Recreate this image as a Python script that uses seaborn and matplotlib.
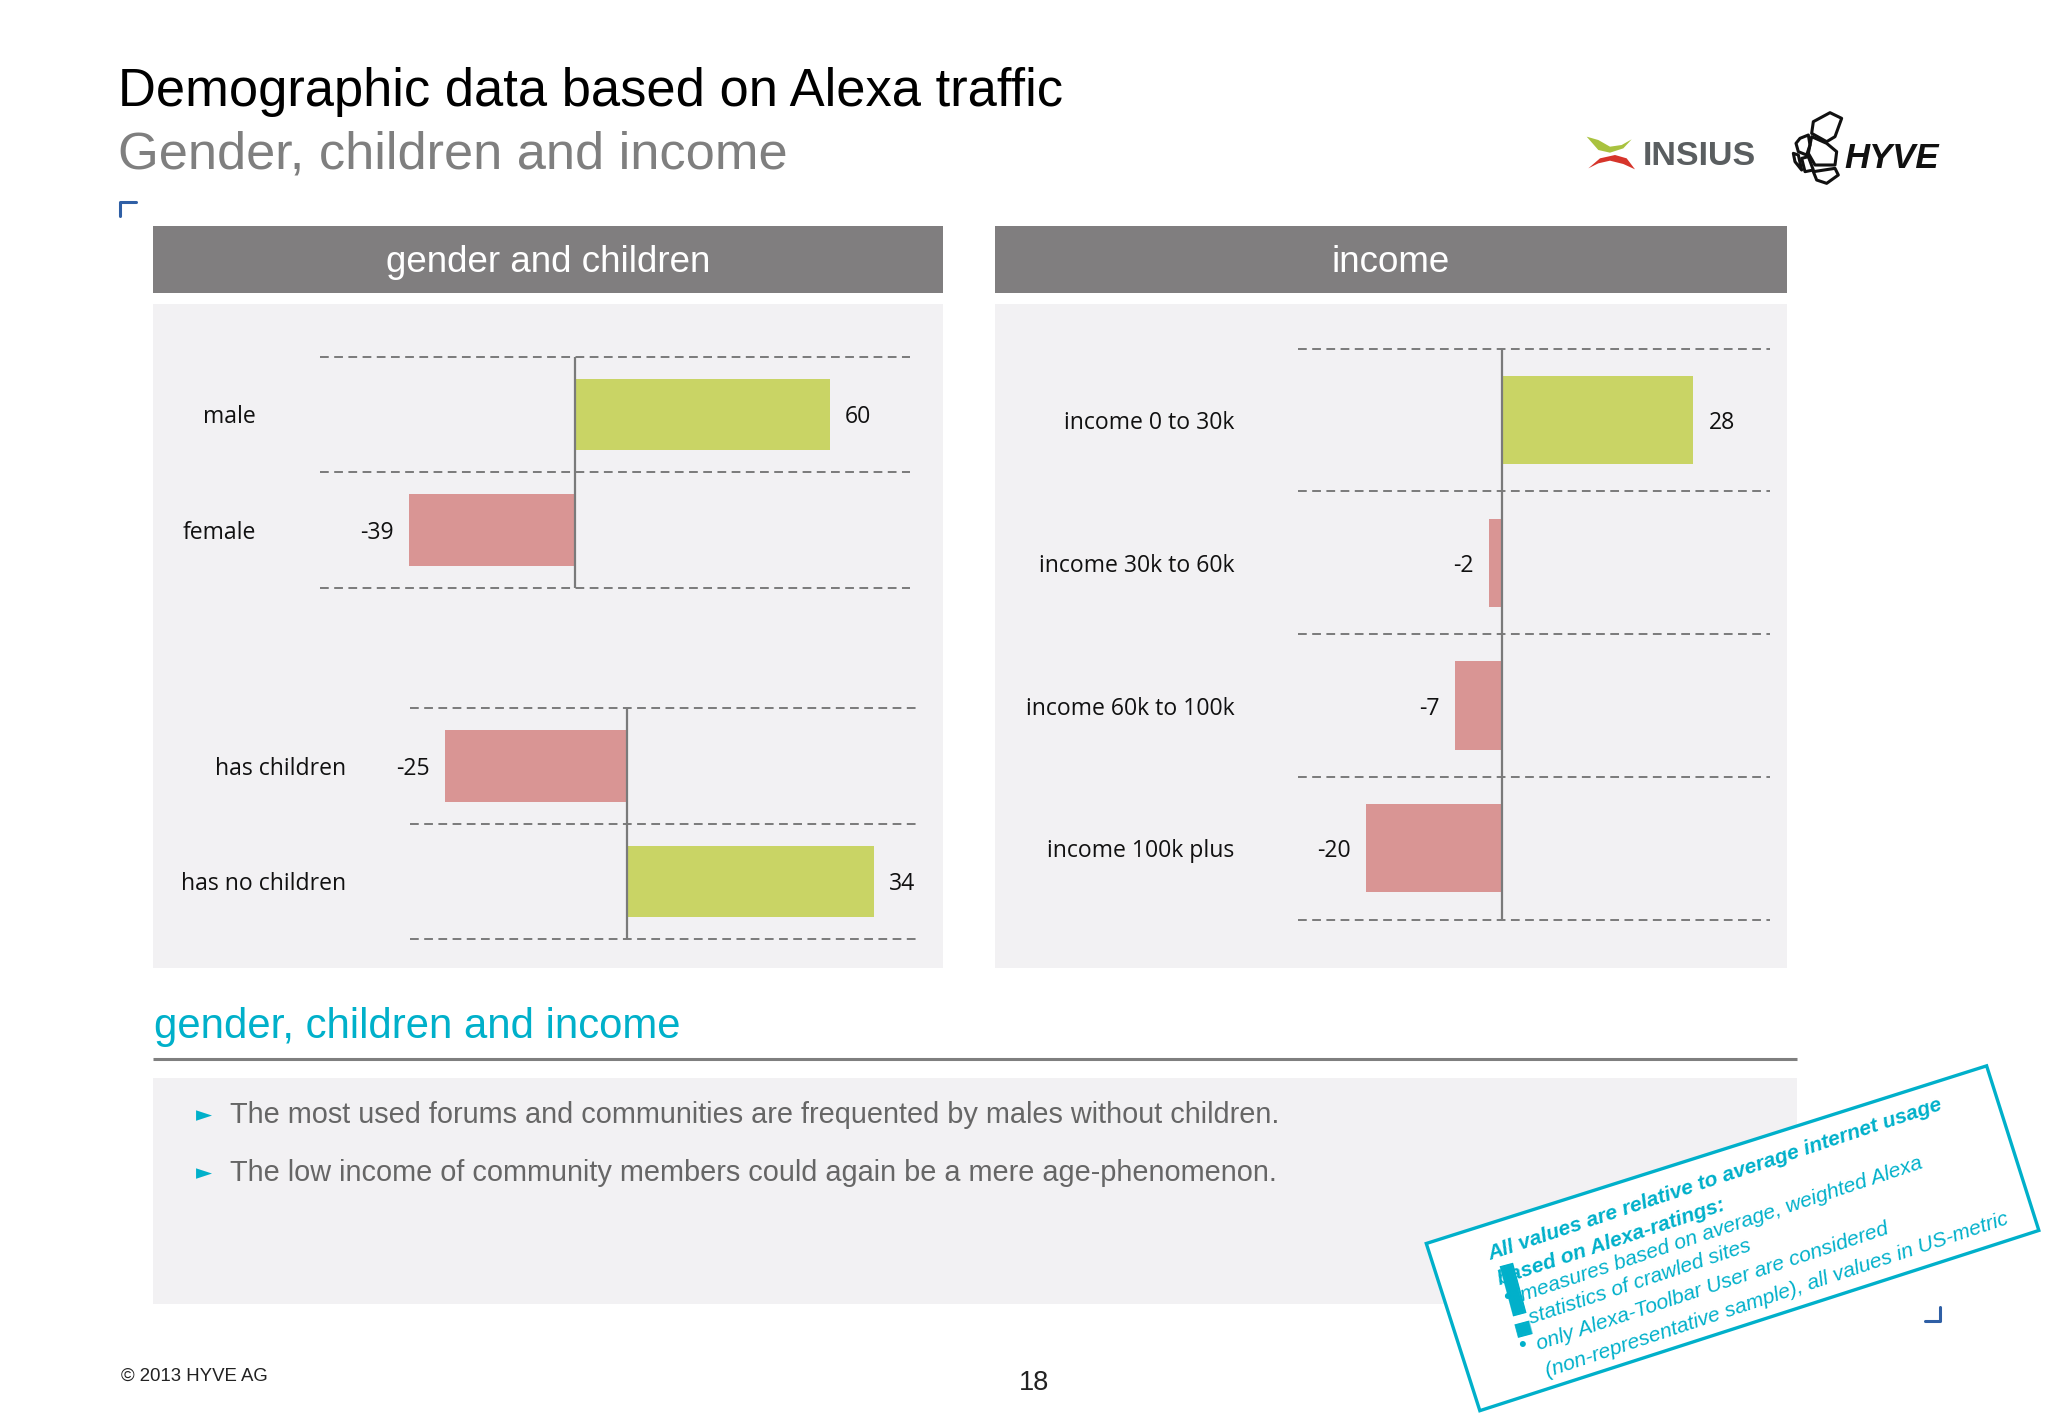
import matplotlib
matplotlib.use("Agg")
import matplotlib.pyplot as plt
import pandas as pd
import seaborn as sns
from matplotlib.patches import Polygon, Rectangle

gender_labels = ["male", "female"]
gender_values = [60, -39]
children_labels = ["has children", "has no children"]
children_values = [-25, 34]
income_labels = ["income 0 to 30k", "income 30k to 60k", "income 60k to 100k", "income 100k plus"]
income_values = [28, -2, -7, -20]

GREEN = "#C9D465"
RED = "#D99594"
TEAL = "#00B0CA"
GREY = "#807E7F"
PANEL = "#F2F1F3"
BLUE = "#2F5FA5"

sns.set_theme(style="white")
plt.rcParams["font.family"] = ["Liberation Sans", "DejaVu Sans"]

W, H = 1568, 1085.6
fig = plt.figure(figsize=(20.48, 14.18), dpi=100, facecolor="white")

# whole-slide axes, coordinates are slide positions with y going down
bg = fig.add_axes([0, 0, 1, 1], zorder=0)
bg.set_xlim(0, W)
bg.set_ylim(H, 0)
bg.axis("off")


def box(x0, y0, x1, y1, color):
    bg.add_patch(Rectangle((x0, y0), x1 - x0, y1 - y0, color=color, lw=0))


def bar_chart(labels, values, left, right, top, bottom, xmin, xmax):
    ax = fig.add_axes([left / W, 1 - bottom / H, (right - left) / W, (bottom - top) / H], zorder=1)
    ax.patch.set_alpha(0)
    df = pd.DataFrame({"label": labels, "value": values})
    colors = {l: (GREEN if v > 0 else RED) for l, v in zip(labels, values)}
    sns.barplot(data=df, x="value", y="label", hue="label", palette=colors, width=0.62,
                dodge=False, legend=False, saturation=1, linewidth=0, ax=ax)
    for c in ax.containers:
        for t in ax.bar_label(c, padding=11, fontsize=16.6, family="Open Sans", color="#111111"):
            t.set_va("center_baseline")
    for i in range(len(labels) + 1):
        ax.axhline(i - 0.5, color="#7A7A7A", lw=1.4, ls=(0, (4.5, 2.8)), zorder=0, clip_on=False)
    ax.axvline(0, color="#7A7A7A", lw=1.6, zorder=3)
    ax.set_xlim(xmin, xmax)
    ax.set_ylim(len(labels) - 0.5, -0.5)
    ax.set_xlabel("")
    ax.set_ylabel("")
    ax.set_xticks([])
    ax.tick_params(axis="y", length=0, pad=46, labelsize=16.6, labelcolor="#111111")
    for t in ax.get_yticklabels():
        t.set_family("Open Sans")
    sns.despine(ax=ax, left=True, bottom=True)
    return ax


# headline
bg.text(90, 81.5, "Demographic data based on Alexa traffic", fontsize=37.8, color="black")
bg.text(90, 129, "Gender, children and income", fontsize=37.7, color="#7F7F7F")

# panels
box(117, 173, 722, 224, GREY)
box(762, 173, 1368, 224, GREY)
box(117, 233, 722, 741, PANEL)
box(762, 233, 1368, 741, PANEL)
bg.text(419.5, 201, "gender and children", fontsize=26.5, color="white", ha="center", va="center")
bg.text(1065, 201, "income", fontsize=26.5, color="white", ha="center", va="center")

bar_chart(gender_labels, gender_values, 245, 697, 273, 450, -60, 79)
bar_chart(children_labels, children_values, 314, 701, 542, 719, -29.8, 39.7)
bar_chart(income_labels, income_values, 994, 1355, 267, 704, -29.9, 39.2)

# comment block
bg.text(118, 795, "gender, children and income", fontsize=30.2, color=TEAL)
bg.plot([117, 1376], [811, 811], color="#7F7F7F", lw=2.2, solid_capstyle="butt")
box(117, 825, 1376, 998, PANEL)
bg.text(150, 854, "►", fontsize=15, color=TEAL, va="center", family=["DejaVu Sans"])
bg.text(150, 898, "►", fontsize=15, color=TEAL, va="center", family=["DejaVu Sans"])
bg.text(176, 860, "The most used forums and communities are frequented by males without children.",
        fontsize=20.75, color="#666666")
bg.text(176, 904, "The low income of community members could again be a mere age-phenomenon.",
        fontsize=20.75, color="#666666")

# corner marks
bg.plot([92, 92, 104], [165, 155, 155], color=BLUE, lw=2.2)
bg.plot([1474, 1485, 1485], [1011, 1011, 1001], color=BLUE, lw=2.2)

# footer
bg.text(93, 1057, "© 2013 HYVE AG", fontsize=13.4, color="#222222")
bg.text(792, 1064, "18", fontsize=19.5, color="#222222", ha="center")

# rotated note
bg.add_patch(Polygon([(1092, 952), (1521, 816), (1561, 942), (1133, 1080)], closed=True,
                     facecolor="white", edgecolor=TEAL, lw=2.4, zorder=5))
note = [
    (1141, 965, "All values are relative to average internet usage", "bold"),
    (1148, 984, "based on Alexa-ratings:", "bold"),
    (1166, 996, "measures based on average, weighted Alexa", "normal"),
    (1172, 1014, "statistics of crawled sites", "normal"),
    (1178, 1034, "only Alexa-Toolbar User are considered", "normal"),
    (1185, 1054, "(non-representative sample), all values in US-metric", "normal"),
]
for x, y, line, weight in note:
    bg.text(x, y, line, fontsize=15.2, color=TEAL, style="italic", weight=weight, rotation=18.4,
            rotation_mode="anchor", zorder=6)
bg.text(1154, 993, "•", fontsize=16, color=TEAL, ha="center", va="center", zorder=6)
bg.text(1165, 1030, "•", fontsize=16, color=TEAL, ha="center", va="center", zorder=6)
bg.text(1154, 1024, "!", fontsize=78, color=TEAL, weight="bold", rotation=15, rotation_mode="anchor", zorder=6)

# logos
P = 2048 / W


def lz(x, y):
    return ((1560 + x / 3) / P, (90 + y / 3) / P)


bg.add_patch(Polygon([lz(*p) for p in [(80, 140), (115, 150), (150, 170), (185, 165), (215, 148),
                                       (190, 175), (150, 188), (115, 180)]], color="#A9C23F", lw=0))
bg.add_patch(Polygon([lz(*p) for p in [(85, 235), (120, 205), (165, 195), (200, 205), (225, 238),
                                       (190, 222), (150, 212), (115, 220)]], color="#D6352B", lw=0))
bg.text(*lz(248, 226), "INSIUS", fontsize=24.5, color="#5A5E60", weight="bold")
cells = [
    [(760, 95), (810, 68), (845, 85), (825, 140), (800, 155), (755, 130)],
    [(755, 140), (800, 160), (830, 185), (825, 225), (765, 225), (745, 190)],
    [(720, 145), (745, 135), (750, 165), (740, 195), (715, 185), (708, 160)],
    [(700, 190), (715, 195), (725, 240), (705, 215)],
    [(725, 205), (745, 200), (760, 240), (735, 245)],
    [(760, 245), (825, 235), (835, 255), (800, 280), (770, 270)],
]
for cell in cells:
    bg.add_patch(Polygon([lz(*p) for p in cell], facecolor="none", edgecolor="#111111", lw=2.2,
                         joinstyle="round"))
bg.text(*lz(852, 233), "HYVE", fontsize=25, color="#111111", weight="bold", style="italic")

fig.savefig("out.png", dpi=100)
